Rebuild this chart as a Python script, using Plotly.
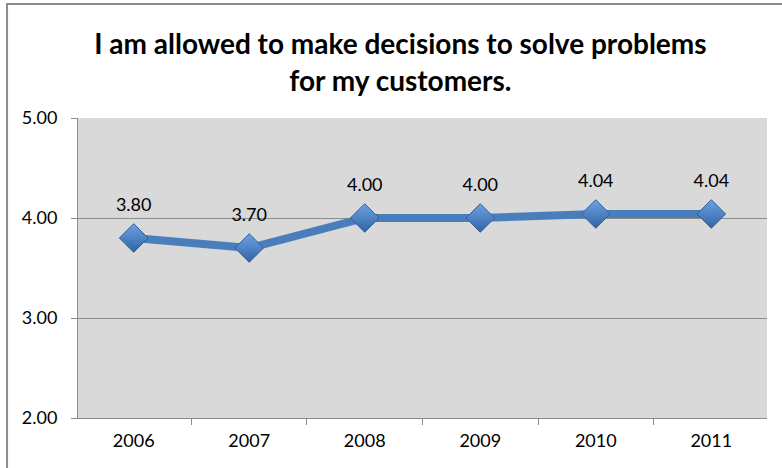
import plotly.graph_objects as go

years = ["2006", "2007", "2008", "2009", "2010", "2011"]
scores = [3.80, 3.70, 4.00, 4.00, 4.04, 4.04]
y_ticks = [2.0, 3.0, 4.0, 5.0]
title_text = "I am allowed to make decisions to solve problems<br>for my customers."

FONT = "Lato, Calibri, sans-serif"

fig = go.Figure()
fig.add_trace(go.Scatter(
    x=years, y=scores,
    mode="lines+markers",
    line=dict(color="#4a7ebb", width=8),
    marker=dict(symbol="diamond", size=22, color="#6ea3e2",
                gradient=dict(type="vertical", color="#2f63a6"),
                line=dict(color="#2f5f98", width=1)),
    cliponaxis=False,
    showlegend=False,
    hoverinfo="skip",
))
# data labels (invisible larger markers push the text upward)
fig.add_trace(go.Scatter(
    x=years, y=scores,
    mode="markers+text",
    marker=dict(size=34, color="rgba(0,0,0,0)"),
    text=[f"{v:.2f}" for v in scores],
    textposition="top center",
    textfont=dict(family=FONT, size=18, color="#000000"),
    cliponaxis=False,
    showlegend=False,
    hoverinfo="skip",
))

fig.update_layout(
    width=782, height=468,
    margin=dict(l=78, r=15, t=118, b=50),
    paper_bgcolor="white",
    plot_bgcolor="#d9d9d9",
    font=dict(family=FONT, size=18, color="#000000"),
    title=dict(text=title_text, x=0.512, xanchor="center", y=0.884, yanchor="top",
               xref="container", yref="container",
               font=dict(family=FONT, size=28, color="#000000", weight="bold")),
    xaxis=dict(type="category", categoryorder="array", categoryarray=years,
               tickson="boundaries", ticks="outside", ticklen=6,
               tickcolor="#8c8c8c", showgrid=False, showline=True,
               linecolor="#8c8c8c", linewidth=1, zeroline=False,
               tickfont=dict(size=18), tickangle=0, ticklabelstandoff=6),
    yaxis=dict(range=[2, 5], tickvals=y_ticks,
               ticktext=[f"{v:.2f}" for v in y_ticks],
               ticks="outside", ticklen=6, tickcolor="#8c8c8c",
               showgrid=True, gridcolor="#8c8c8c", gridwidth=1,
               showline=True, linecolor="#8c8c8c", linewidth=1,
               zeroline=False, tickfont=dict(size=18), ticklabelstandoff=10),
    shapes=[dict(type="path", xref="paper", yref="paper",
                 path="M -0.103,-0.5 L -0.103,1.38 L 1.5,1.38",
                 line=dict(color="#8c8c8c", width=2))],
)

fig.write_html("out.html", config={"displayModeBar": False},
               post_script="document.body.style.margin='0';")
